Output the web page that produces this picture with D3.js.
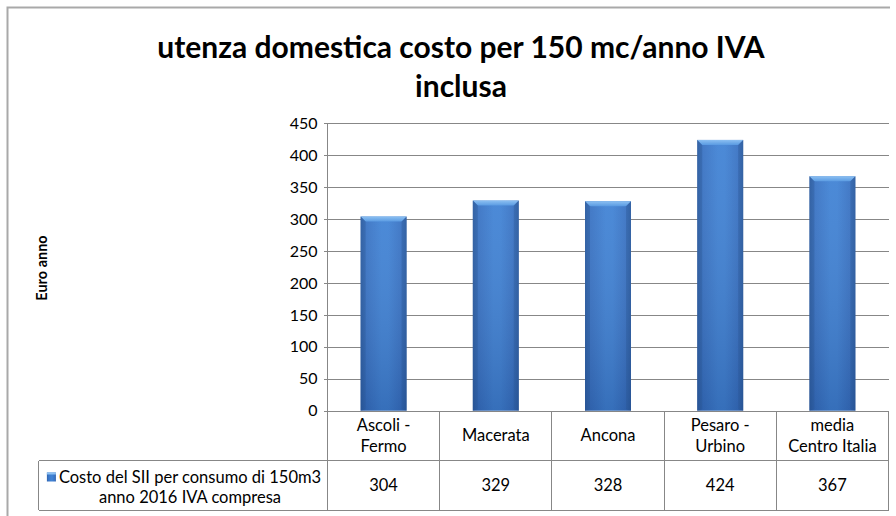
<!DOCTYPE html>
<html>
<head>
<meta charset="utf-8">
<script src="https://cdn.jsdelivr.net/npm/d3@7/dist/d3.min.js"></script>
<style>
  html, body { margin: 0; padding: 0; background: #fff; }
  svg { display: block; }
  text { font-family: Lato, "Open Sans", sans-serif; fill: #000; }
</style>
</head>
<body>
<svg id="chart" width="896" height="516"></svg>
<script>
// ---- data ----
const categories = ["Ascoli -\nFermo", "Macerata", "Ancona", "Pesaro -\nUrbino", "media\nCentro Italia"];
const values = [304, 329, 328, 424, 367];
const seriesName = ["Costo del SII per consumo di 150m3", "anno 2016 IVA compresa"];
const yTicks = [0, 50, 100, 150, 200, 250, 300, 350, 400, 450];
const titleLines = ["utenza domestica costo per 150 mc/anno IVA", "inclusa"];
const yAxisTitle = "Euro anno";

// ---- layout ----
const svg = d3.select("#chart");
const plotL = 327.5, plotR = 888.5, plotT = 123.3, plotB = 410.7;
const rowMid = 460.7, rowBot = 510.2, legendL = 38.5;
const fs = 16.5;

const x = d3.scaleBand().domain(categories).range([plotL, plotR]).padding(0);
const y = d3.scaleLinear().domain([0, 450]).range([plotB, plotT]);
const barFrac = 0.41;

// defs
const defs = svg.append("defs");
const gH = defs.append("linearGradient").attr("id", "barH").attr("x1", "0").attr("x2", "1").attr("y1", "0").attr("y2", "0");
[["0%", "#2d5fa6"], ["12%", "#3872c3"], ["45%", "#4082d4"], ["60%", "#4082d4"], ["88%", "#3872c3"], ["100%", "#2d5fa6"]]
  .forEach(([o, c]) => gH.append("stop").attr("offset", o).attr("stop-color", c));
const gV = defs.append("linearGradient").attr("id", "barV").attr("x1", "0").attr("x2", "0").attr("y1", "0").attr("y2", "1");
gV.append("stop").attr("offset", "0%").attr("stop-color", "#ffffff").attr("stop-opacity", 0.06);
gV.append("stop").attr("offset", "100%").attr("stop-color", "#000a30").attr("stop-opacity", 0.16);
const gB = defs.append("linearGradient").attr("id", "bevel").attr("x1", "0").attr("x2", "0").attr("y1", "0").attr("y2", "1");
gB.append("stop").attr("offset", "0%").attr("stop-color", "#8cc0f2");
gB.append("stop").attr("offset", "100%").attr("stop-color", "#5a9be2");

// outer chart border (top and left visible)
svg.append("path")
  .attr("d", `M7.5,516 L7.5,7.5 L890,7.5`)
  .attr("fill", "none").attr("stroke", "#a9a9a9").attr("stroke-width", 2);

// title
const title = svg.append("text")
  .attr("text-anchor", "middle")
  .attr("font-weight", "bold")
  .attr("font-size", 30);
titleLines.forEach((t, i) => {
  title.append("tspan").attr("x", 461).attr("y", 58 + i * 39).text(t);
});

// gridlines
svg.append("g")
  .attr("transform", `translate(${plotL},0)`)
  .call(d3.axisLeft(y).tickValues(yTicks).tickSize(-(plotR - plotL)).tickFormat(""))
  .call(g => g.select(".domain").remove())
  .call(g => g.selectAll("line").attr("stroke", "#878787").attr("stroke-width", 1).attr("shape-rendering", "crispEdges"));

// y axis with ticks and labels
const yAxis = svg.append("g")
  .attr("transform", `translate(${plotL},0)`)
  .call(d3.axisLeft(y).tickValues(yTicks).tickSize(4).tickPadding(6).tickSizeOuter(0));
yAxis.select(".domain").remove();
yAxis.selectAll("line").attr("stroke", "#878787").attr("shape-rendering", "crispEdges");
yAxis.selectAll("text").attr("font-size", 16).attr("font-family", "Lato, sans-serif").attr("fill", "#000");

// vertical axis line (extends through table)
svg.append("line")
  .attr("x1", plotL).attr("x2", plotL).attr("y1", plotT).attr("y2", rowBot)
  .attr("stroke", "#878787").attr("shape-rendering", "crispEdges");

// y axis title
svg.append("text")
  .attr("transform", `translate(47,268) rotate(-90)`)
  .attr("text-anchor", "middle")
  .attr("font-weight", "bold")
  .attr("font-size", 14.5)
  .text(yAxisTitle);

// bars
const bars = svg.append("g").selectAll("g").data(categories).join("g");
bars.each(function (c, i) {
  const g = d3.select(this);
  const bw = x.bandwidth() * barFrac;
  const bx = x(c) + (x.bandwidth() - bw) / 2;
  const by = y(values[i]);
  const bh = y(0) - by;
  g.append("rect").attr("x", bx).attr("y", by).attr("width", bw).attr("height", bh).attr("fill", "url(#barH)");
  g.append("rect").attr("x", bx).attr("y", by).attr("width", bw).attr("height", bh).attr("fill", "url(#barV)");
  const bev = 5;
  g.append("path")
    .attr("d", `M${bx},${by} L${bx + bw},${by} L${bx + bw - bev},${by + bev} L${bx + bev},${by + bev} Z`)
    .attr("fill", "url(#bevel)");
  g.append("path")
    .attr("d", `M${bx},${by} L${bx + bev},${by + bev} L${bx + bev},${by + bh - 2} L${bx},${by + bh} Z`)
    .attr("fill", "#2a5898").attr("opacity", 0.35);
  g.append("path")
    .attr("d", `M${bx + bw},${by} L${bx + bw - bev},${by + bev} L${bx + bw - bev},${by + bh - 2} L${bx + bw},${by + bh} Z`)
    .attr("fill", "#2a5898").attr("opacity", 0.35);
});

// data table
const table = svg.append("g").attr("stroke", "#878787").attr("shape-rendering", "crispEdges");
table.append("line").attr("x1", legendL).attr("x2", plotR).attr("y1", rowMid).attr("y2", rowMid);
table.append("line").attr("x1", legendL).attr("x2", plotR).attr("y1", rowBot).attr("y2", rowBot);
table.append("line").attr("x1", legendL).attr("x2", legendL).attr("y1", rowMid).attr("y2", rowBot);
table.selectAll("line.col").data(categories).join("line").attr("class", "col")
  .attr("x1", c => x(c) + x.bandwidth()).attr("x2", c => x(c) + x.bandwidth())
  .attr("y1", plotB).attr("y2", rowBot);

// category labels
const catMid = (plotB + rowMid) / 2;
svg.append("g").selectAll("text").data(categories).join("text")
  .attr("text-anchor", "middle")
  .attr("font-size", fs)
  .each(function (c) {
    const lines = c.split("\n");
    const lh = 21.5;
    const t = d3.select(this);
    lines.forEach((ln, k) => {
      t.append("tspan")
        .attr("x", x(c) + x.bandwidth() / 2)
        .attr("y", catMid + (k - (lines.length - 1) / 2) * lh)
        .attr("dy", "0.35em")
        .text(ln);
    });
  });

// values row
const valMid = (rowMid + rowBot) / 2;
svg.append("g").selectAll("text").data(categories).join("text")
  .attr("text-anchor", "middle")
  .attr("font-size", fs)
  .attr("x", c => x(c) + x.bandwidth() / 2)
  .attr("y", valMid)
  .attr("dy", "0.35em")
  .text((c, i) => values[i]);

// legend in table
const legMid = (legendL + plotL) / 2;
const leg = svg.append("g");
const l1 = leg.append("text").attr("font-size", fs).attr("text-anchor", "middle")
  .attr("x", legMid + 7).attr("y", 477).attr("dy", "0.35em").text(seriesName[0]);
leg.append("text").attr("font-size", fs).attr("text-anchor", "middle")
  .attr("x", legMid + 7).attr("y", 497).attr("dy", "0.35em").text(seriesName[1]);
const bb = l1.node().getBBox();
leg.append("rect").attr("x", bb.x - 12).attr("y", 472.5).attr("width", 9).attr("height", 9).attr("fill", "url(#barH)");
leg.append("rect").attr("x", bb.x - 12).attr("y", 472.5).attr("width", 9).attr("height", 2).attr("fill", "#8cc0f2");
</script>
</body>
</html>
